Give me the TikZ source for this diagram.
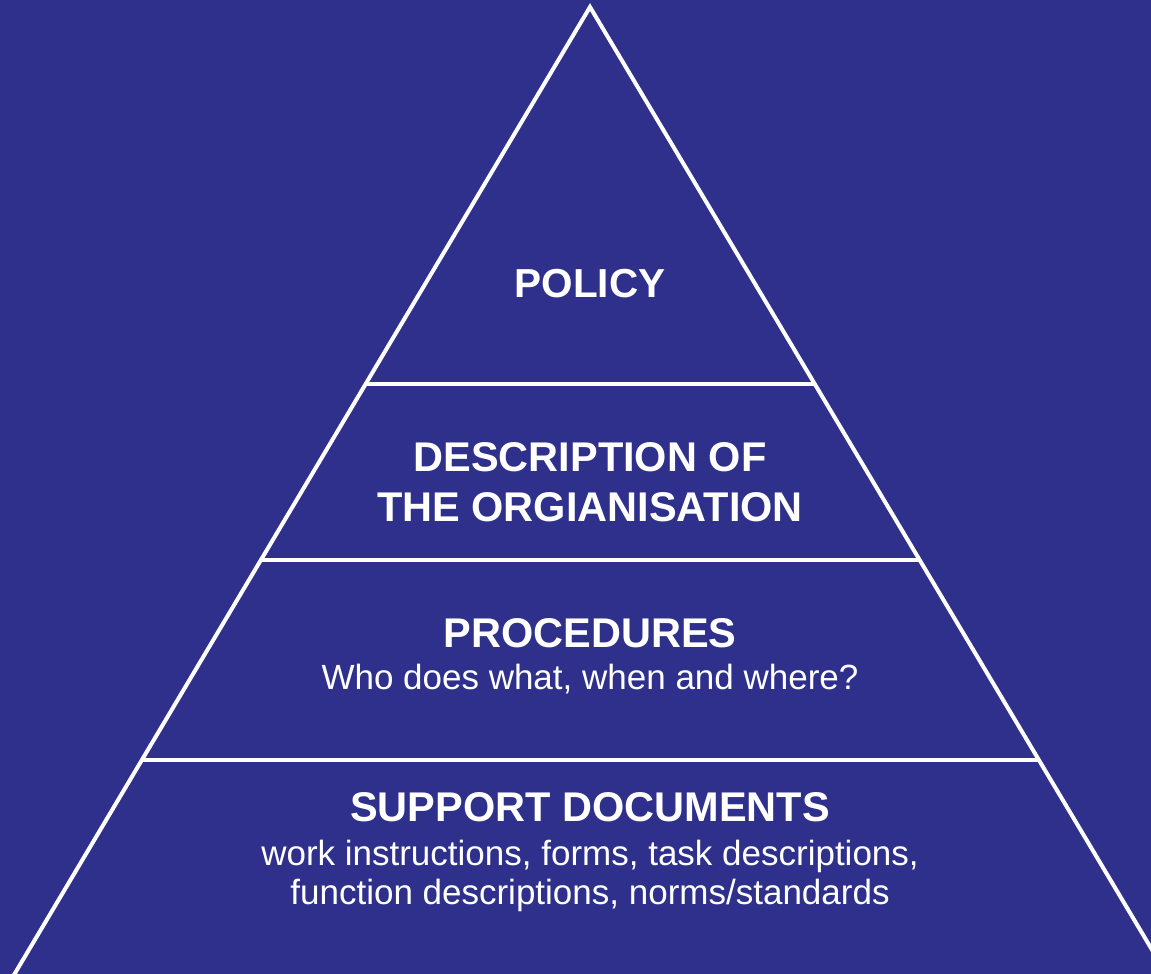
\documentclass[tikz,border=0pt]{standalone}
\usepackage{fontspec}
\setmainfont{Liberation Sans}
\usetikzlibrary{calc}
\definecolor{bgblue}{RGB}{46,48,140}
\tikzset{
  edge/.style={draw=white, line width=4pt},
  head/.style={text=white, font=\fontsize{41.5}{50}\selectfont\bfseries, align=center, inner sep=0pt},
  sub/.style={text=white, font=\fontsize{35}{39}\selectfont, align=center, inner sep=0pt}
}
\begin{document}
\begin{tikzpicture}[x=1pt,y=-1pt]
\fill[bgblue] (0,0) rectangle (1151,974);
\useasboundingbox (0,0) rectangle (1151,974);
\begin{scope}
\clip (0,0) rectangle (1151,974);
\coordinate (apex) at (590,7);
\coordinate (bl) at (5,990);
\coordinate (br) at (1176,990);
\draw[edge, line join=miter] (bl) -- (apex) -- (br);
\coordinate (l1) at ($(apex)!0.3835!(bl)$);
\coordinate (r1) at ($(apex)!0.3835!(br)$);
\coordinate (l2) at ($(apex)!0.5626!(bl)$);
\coordinate (r2) at ($(apex)!0.5626!(br)$);
\coordinate (l3) at ($(apex)!0.766!(bl)$);
\coordinate (r3) at ($(apex)!0.766!(br)$);
\draw[edge] (l1) -- (r1);
\draw[edge] (l2) -- (r2);
\draw[edge] (l3) -- (r3);
\end{scope}
\node[head, font=\fontsize{40.5}{50}\selectfont\bfseries] (policy) at (590,284) {POLICY};
\node[head] (desc) at (590,482) {DESCRIPTION OF\\THE ORGIANISATION};
\node[head] (proc) at (590,633) {PROCEDURES};
\node[sub] (procsub) at (590,679) {Who does what, when and where?};
\node[head] (supp) at (590,807) {SUPPORT DOCUMENTS};
\node[sub] (suppsub) at (590,876) {work instructions, forms, task descriptions,\\function descriptions, norms/standards};
\end{tikzpicture}
\end{document}
